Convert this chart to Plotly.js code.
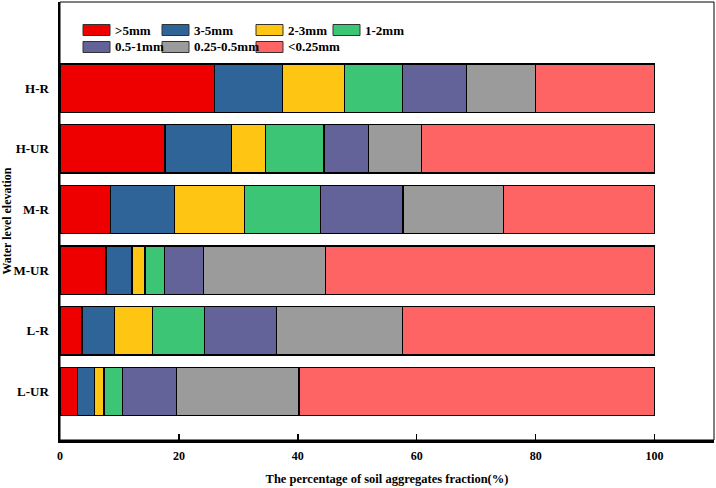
<!DOCTYPE html>
<html>
<head>
<meta charset="utf-8">
<script src="https://cdn.plot.ly/plotly-3.0.1.min.js"></script>
<style>html,body{margin:0;padding:0;background:#fff;}#chart{width:716px;height:488px;}</style>
</head>
<body>
<div id="chart"></div>
<script>
// Categories (bottom to top)
const categories = ["L-UR", "L-R", "M-UR", "M-R", "H-UR", "H-R"];
// Series names
const seriesNames = [">5mm", "3-5mm", "2-3mm", "1-2mm", "0.5-1mm", "0.25-0.5mm", "<0.25mm"];
const seriesColors = ["#EE0000", "#2F6499", "#FEC612", "#3BC575", "#636399", "#9B9B9B", "#FF6464"];
// Values per series, in category order above (%)
const gt5mm     = [3.0, 3.7, 7.75, 8.5, 17.65, 26.0];
const mm3to5    = [2.8, 5.5, 4.35, 10.8, 11.15, 11.45];
const mm2to3    = [1.6, 6.4, 2.2, 11.7, 5.8, 10.45];
const mm1to2    = [3.1, 8.7, 3.3, 12.8, 9.8, 9.7];
const mm05to1   = [9.1, 12.1, 6.5, 13.9, 7.5, 10.8];
const mm025to05 = [20.6, 21.2, 20.6, 16.9, 8.9, 11.6];
const lt025mm   = [59.8, 42.4, 55.3, 25.4, 39.2, 20.0];
const seriesValues = [gt5mm, mm3to5, mm2to3, mm1to2, mm05to1, mm025to05, lt025mm];
const xTickVals = [0, 20, 40, 60, 80, 100];

const FONT = "Liberation Serif, Times New Roman, serif";

const traces = seriesNames.map((name, i) => ({
  type: "bar",
  orientation: "h",
  name: name,
  y: categories,
  x: seriesValues[i],
  marker: {color: seriesColors[i], line: {color: "#000", width: 1.3}},
  hoverinfo: "skip",
  showlegend: false
}));

// Plot-area pixel geometry (for legend placement)
const W = 716, H = 488, mL = 60, mR = 2, mT = 2, mB = 48;
const pw = W - mL - mR, ph = H - mT - mB;
const px = (x) => (x - mL) / pw;
const py = (y) => (H - mB - y) / ph;

// legend layout: 4 columns, 2 rows
const colX = [83, 162, 256, 333];
const rowY = [30, 47];
const swW = 27, swH = 11;
const shapes = [{
  type: "rect", xref: "paper", yref: "paper", x0: 0, x1: 1, y0: 0, y1: 1,
  line: {color: "#000", width: 1}, fillcolor: "rgba(0,0,0,0)"
}];
const annotations = [];
seriesNames.forEach((name, i) => {
  const c = i % 4, r = Math.floor(i / 4);
  const x0 = colX[c], yc = rowY[r];
  shapes.push({
    type: "rect", xref: "paper", yref: "paper",
    x0: px(x0), x1: px(x0 + swW), y0: py(yc + swH / 2), y1: py(yc - swH / 2),
    fillcolor: seriesColors[i], line: {color: "#333", width: 1}
  });
  annotations.push({
    xref: "paper", yref: "paper", x: px(x0 + swW + 3), y: py(yc),
    xanchor: "left", yanchor: "middle", showarrow: false,
    text: "<b>" + name.replace("<", "&lt;").replace(">", "&gt;") + "</b>",
    font: {family: FONT, size: 13, color: "#000"}
  });
});

const layout = {
  width: W, height: H,
  margin: {l: mL, r: mR, t: mT, b: mB},
  paper_bgcolor: "#fff", plot_bgcolor: "#fff",
  barmode: "stack",
  bargap: 0.2,
  showlegend: false,
  font: {family: FONT, size: 12, color: "#000"},
  xaxis: {
    range: [0, 110],
    tickvals: xTickVals,
    ticktext: xTickVals.map(v => "<b>" + v + "</b>"),
    ticks: "inside", ticklen: 6, tickwidth: 1.5, tickcolor: "#000",
    showline: true, linecolor: "#000", linewidth: 2.5,
    showgrid: false, zeroline: false,
    ticklabelstandoff: 3,
    tickfont: {family: FONT, size: 12, color: "#000"},
    title: {text: "<b>The percentage of soil aggregates fraction(%)</b>", font: {family: FONT, size: 12.5, color: "#000"}, standoff: 13}
  },
  yaxis: {
    type: "category",
    categoryorder: "array", categoryarray: categories,
    range: [-0.8, 6.42],
    tickvals: categories,
    ticktext: categories.map(c => "<b>" + c + "</b>"),
    ticks: "", showline: true, linecolor: "#000", linewidth: 2.5,
    showgrid: false, zeroline: false,
    ticklabelstandoff: 6,
    tickfont: {family: FONT, size: 13, color: "#000"},
    title: {text: "<b>Water level elevation</b>", font: {family: FONT, size: 12, color: "#000"}, standoff: 6}
  },
  shapes: shapes,
  annotations: annotations
};

Plotly.newPlot("chart", traces, layout, {displayModeBar: false, staticPlot: true});
</script>
</body>
</html>
